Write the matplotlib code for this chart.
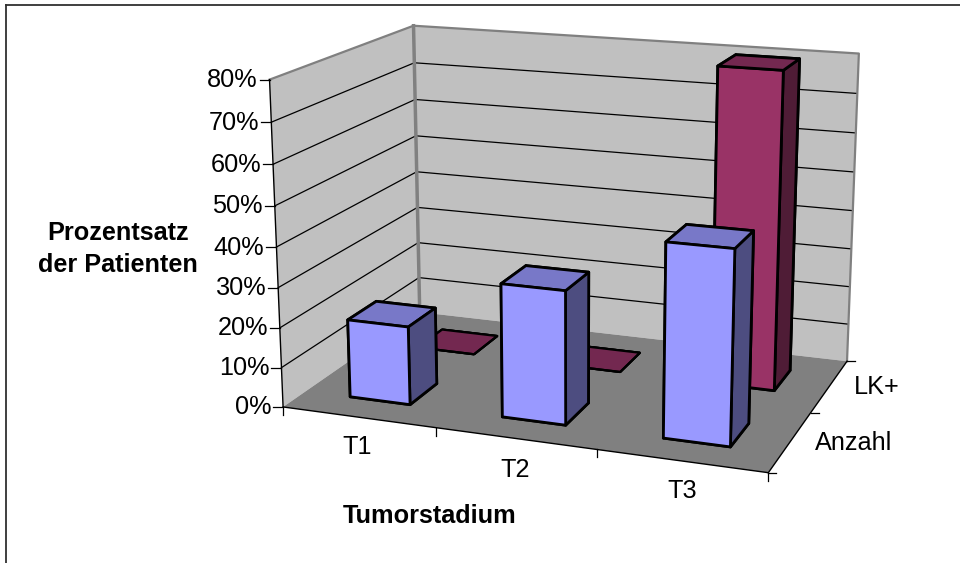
import numpy as np
import matplotlib
matplotlib.use('Agg')
import matplotlib.pyplot as plt
from mpl_toolkits.mplot3d import proj3d
from mpl_toolkits.mplot3d.art3d import Poly3DCollection

plt.rcParams['font.family'] = ['Liberation Sans', 'DejaVu Sans']

# data
stages = ['T1', 'T2', 'T3']
series = ['Anzahl', 'LK+']
anzahl = [19.7, 33, 47]
lk_plus = [0, 0, 80]
z_ticks = [0, 10, 20, 30, 40, 50, 60, 70, 80]

W, H = 960, 563
ZMAX = 80
nx, ny = len(stages), len(series)
bar_w = 0.4

# colours of the faces: front, top, side
blue = ('#9999FF', '#7878C8', '#4D4D80')
plum = ('#993366', '#732850', '#4F1C36')
wall_c = '#C0C0C0'
floor_c = '#808080'
edge_c = '#808080'

fig = plt.figure(figsize=(W/100, H/100), dpi=100)
fig.patch.set_facecolor('white')

# axes rect and view fitted to the wall corners of the picture
S = 657.25
ax = fig.add_axes([236.76/W, -2.73/H, S/W, S/H], projection='3d', computed_zorder=False)
ax.patch.set_alpha(0)
ax.set_xlim(0, nx); ax.set_ylim(0, ny); ax.set_zlim(0, ZMAX)
ax.view_init(elev=15.3449, azim=-69.933)
ax.set_proj_type('persp', focal_length=0.5576)
ax.set_box_aspect((1, 0.6613, 0.666))
ax.set_axis_off()

# walls and floor
back = [(0, ny, 0), (nx, ny, 0), (nx, ny, ZMAX), (0, ny, ZMAX)]
left = [(0, 0, 0), (0, ny, 0), (0, ny, ZMAX), (0, 0, ZMAX)]
floor = [(0, 0, 0), (nx, 0, 0), (nx, ny, 0), (0, ny, 0)]
ax.add_collection3d(Poly3DCollection([back, left], facecolor=wall_c, edgecolor='none', zorder=1))
ax.add_collection3d(Poly3DCollection([floor], facecolor=floor_c, edgecolor='none', zorder=3))

# grid lines
for z in z_ticks[1:-1]:
    ax.plot([0, 0, nx], [0, ny, ny], [z, z, z], color='black', lw=0.9, zorder=2)

# wall outline
ax.plot([0, 0, nx, nx], [0, ny, ny, ny], [ZMAX, ZMAX, ZMAX, 0], color=edge_c, lw=1.6, zorder=2.5)
ax.plot([0, 0], [ny, ny], [0, ZMAX], color=edge_c, lw=2.5, zorder=2.5)

# axis lines
ax.plot([0, 0], [0, 0], [0, ZMAX], color='black', lw=1, zorder=4)
ax.plot([0, nx, nx], [0, 0, ny], [0, 0, 0], color='black', lw=1, zorder=4)


def faces(c):
    # bar3d order: -z, +z, -y, +y, -x, +x
    return [c[2], c[1], c[0], c[2], c[2], c[2]]


xs, ys, dz, cols = [], [], [], []
fx, fy = [], []
for i in range(nx):
    for j, vals, c in ((0, anzahl, blue), (1, lk_plus, plum)):
        if vals[i] == 0:
            fx.append(i + 0.5 - bar_w/2)
            fy.append(j + 0.5 - bar_w/2)
        else:
            xs.append(i + 0.5 - bar_w/2)
            ys.append(j + 0.5 - bar_w/2)
            dz.append(vals[i])
            cols += faces(c)

# empty categories lie flat on the floor
ax.bar3d(fx, fy, [0]*len(fx), bar_w, bar_w, 0, color=[plum[1]]*(6*len(fx)),
         shade=False, edgecolor='black', linewidth=1.6, zorder=5)
ax.bar3d(xs, ys, [0]*len(xs), bar_w, bar_w, dz, color=cols,
         shade=False, edgecolor='black', linewidth=2, zorder=6)

ax.apply_aspect()
ax.M = ax.get_proj()


def to_px(x, y, z):
    xv, yv, _ = proj3d.proj_transform(x, y, z, ax.M)
    px, py = ax.transData.transform((float(xv), float(yv)))
    return px, H - py


# overlay in pixels for ticks, labels and the frame
ov = fig.add_axes([0, 0, 1, 1], facecolor='none')
ov.set_xlim(0, W); ov.set_ylim(H, 0)
ov.axis('off')

ov.plot([6, 6], [H, 5], color='#303030', lw=1.3)
ov.plot([6, W], [5, 5], color='#303030', lw=1.3)

fs = 18.2
for z in z_ticks:
    px, py = to_px(0, 0, z)
    ov.plot([px - 10, px], [py, py], color='black', lw=0.9)
    ov.text(px - 12, py + 0.5, '%d%%' % z, ha='right', va='center', fontsize=fs, color='black')

for i in range(nx + 1):
    px, py = to_px(i, 0, 0)
    ov.plot([px, px], [py, py + 8], color='black', lw=0.9)

for j in range(ny + 1):
    px, py = to_px(nx, j, 0)
    ov.plot([px, px + 8], [py, py], color='black', lw=0.9)

for name, pos in zip(stages, [(357, 447), (515, 470), (682, 491)]):
    ov.text(pos[0], pos[1], name, ha='center', va='center', fontsize=fs, color='black')
for name, pos in zip(series, [(854, 443), (877, 387)]):
    ov.text(pos[0], pos[1], name, ha='center', va='center', fontsize=fs, color='black')

ov.text(430, 516, 'Tumorstadium', ha='center', va='center', fontsize=fs, fontweight='bold')
ov.text(118, 233, 'Prozentsatz', ha='center', va='center', fontsize=fs, fontweight='bold')
ov.text(118, 265, 'der Patienten', ha='center', va='center', fontsize=fs, fontweight='bold')

fig.savefig('out.png', dpi=100)
